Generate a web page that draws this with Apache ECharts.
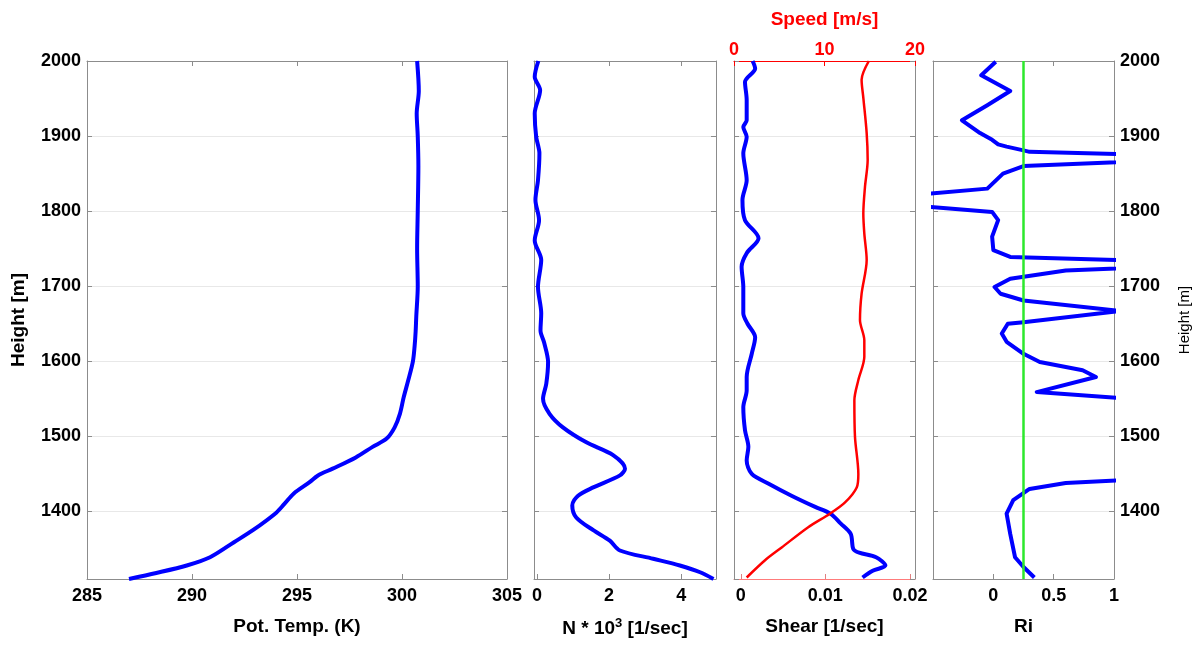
<!DOCTYPE html>
<html>
<head>
<meta charset="utf-8">
<script src="https://cdn.jsdelivr.net/npm/echarts@6/dist/echarts.min.js"></script>
<style>
  html, body { margin: 0; padding: 0; background: #ffffff; }
  #chart { width: 1199px; height: 646px; }
</style>
</head>
<body>
<div id="chart"></div>
<script>
// ---- Profile data (height in metres) ----

// Potential temperature [K]
const thetaHeight = [2000, 1960, 1930, 1900, 1860, 1800, 1750, 1700, 1660, 1640, 1620, 1600, 1575, 1552, 1530, 1512, 1497, 1486, 1472, 1457, 1448, 1439, 1424, 1410, 1398, 1375, 1359, 1339, 1328, 1318, 1310];
const thetaValue  = [300.72, 300.80, 300.70, 300.75, 300.78, 300.75, 300.72, 300.75, 300.68, 300.65, 300.60, 300.52, 300.30, 300.08, 299.90, 299.65, 299.27, 298.60, 297.80, 296.70, 296.00, 295.60, 294.85, 294.40, 294.00, 292.90, 292.00, 290.86, 289.75, 288.30, 287.00];

// Brunt-Vaisala frequency N * 10^3 [1/sec]
const bvHeight = [2000, 1979, 1961, 1930, 1899, 1877, 1841, 1815, 1788, 1761, 1735, 1699, 1664, 1641, 1625, 1599, 1570, 1550, 1530, 1512, 1492, 1475, 1457, 1448, 1432, 1421, 1408, 1392, 1375, 1361, 1348, 1337, 1328, 1319, 1310];
const bvValue  = [0.04, -0.06, 0.09, -0.06, -0.02, 0.07, 0.03, -0.04, 0.06, -0.06, 0.12, 0.03, 0.12, 0.10, 0.20, 0.31, 0.26, 0.17, 0.35, 0.72, 1.37, 2.11, 2.44, 2.30, 1.56, 1.14, 0.98, 1.09, 1.56, 2.02, 2.30, 3.22, 3.96, 4.52, 4.89];

// Wind shear [1/sec]
const shearHeight = [2000, 1990, 1972, 1948, 1921, 1912, 1899, 1877, 1841, 1815, 1788, 1764, 1744, 1726, 1699, 1664, 1650, 1632, 1610, 1579, 1561, 1539, 1508, 1486, 1468, 1450, 1437, 1421, 1406, 1397, 1384, 1370, 1350, 1345, 1339, 1328, 1321, 1312];
const shearValue  = [0.0014, 0.0017, 0.0005, 0.0007, 0.0007, 0.0003, 0.0007, 0.0003, 0.0007, 0.0002, 0.0005, 0.0021, 0.0007, 0.0001, 0.0003, 0.0003, 0.0008, 0.0017, 0.0013, 0.0007, 0.0007, 0.0003, 0.0005, 0.0009, 0.0007, 0.0013, 0.0033, 0.0060, 0.0088, 0.0106, 0.0118, 0.0130, 0.0133, 0.0140, 0.0160, 0.0171, 0.0156, 0.0144];

// Wind speed [m/s]
const speedHeight = [2000, 1975, 1950, 1904, 1868, 1832, 1797, 1770, 1735, 1690, 1655, 1628, 1606, 1575, 1548, 1499, 1450, 1432, 1412, 1397, 1379, 1352, 1335, 1312];
const speedValue  = [14.9, 14.1, 14.3, 14.66, 14.77, 14.47, 14.29, 14.4, 14.66, 14.1, 13.92, 14.4, 14.4, 13.74, 13.3, 13.37, 13.74, 13.56, 12.27, 10.6, 8.2, 5.27, 3.43, 1.4];

// Richardson number
const riHeight = [1999, 1981, 1960, 1941, 1921, 1904, 1895, 1889, 1886, 1881, 1879, 1872, 1860, 1850, 1830, 1814, 1799, 1788, 1766, 1748, 1739, 1730, 1721, 1710, 1699, 1690, 1681, 1667, 1652, 1650, 1637, 1626, 1610, 1599, 1588, 1579, 1559, 1545, 1500, 1446, 1438, 1430, 1415, 1397, 1370, 1339, 1326, 1312];
const riValue  = [0.02, -0.10, 0.14, -0.05, -0.26, -0.11, -0.01, 0.04, 0.11, 0.25, 0.30, 2.0, 0.25, 0.08, -0.05, -1.2, -0.01, 0.04, -0.01, 0.0, 0.14, 2.0, 0.60, 0.14, 0.01, 0.06, 0.25, 1.05, 0.25, 0.12, 0.07, 0.11, 0.25, 0.385, 0.74, 0.85, 0.36, 1.6, 2.5, 1.6, 0.60, 0.30, 0.165, 0.11, 0.14, 0.18, 0.25, 0.34];

// Critical Richardson number
const riCritical = 0.25;

// ---- Axis extents ----
const HEIGHT_MIN = 1310, HEIGHT_MAX = 2000;

const FONT = "'Liberation Sans', Arial, Helvetica, sans-serif";
const FRAME = '#8c8c8c';
const GRID_LINE = '#e8e8e8';
const BLUE = '#0000ff';
const RED = '#ff0000';

function pairs(values, heights) {
  return values.map((v, i) => [v, heights[i]]);
}

const tickLabel = (color) => ({
  color: color || '#000', fontFamily: FONT, fontWeight: 'bold', fontSize: 18
});

function heightAxis(gridIndex, position, showLabels, name, nameStyle, nameGap) {
  return {
    type: 'value', gridIndex, position,
    min: HEIGHT_MIN, max: HEIGHT_MAX, minInterval: 100, maxInterval: 100,
    axisLine: { show: true, onZero: false, lineStyle: { color: FRAME, width: 1 } },
    axisTick: { show: true, inside: true, length: 5, lineStyle: { color: FRAME } },
    axisLabel: Object.assign({
      show: showLabels, showMinLabel: false, margin: 6,
      formatter: (v) => String(Math.round(v))
    }, tickLabel()),
    splitLine: { show: position === 'left', lineStyle: { color: GRID_LINE, width: 1 } },
    name: name || '', nameLocation: 'middle', nameGap: nameGap || 0,
    nameTextStyle: nameStyle || {}
  };
}

function valueAxis(gridIndex, position, cfg) {
  return {
    type: 'value', gridIndex, position,
    min: cfg.min, max: cfg.max,
    minInterval: cfg.step, maxInterval: cfg.step,
    axisLine: { show: true, onZero: false, lineStyle: { color: cfg.lineColor || FRAME, width: 1 } },
    axisTick: { show: true, inside: true, length: 5, lineStyle: { color: cfg.tickColor || FRAME } },
    axisLabel: Object.assign({
      show: !!cfg.labels, margin: cfg.margin != null ? cfg.margin : 8,
      showMinLabel: cfg.showMinLabel !== false, showMaxLabel: cfg.showMaxLabel !== false
    }, tickLabel(cfg.labelColor)),
    splitLine: { show: false },
    name: cfg.name || '', nameLocation: 'middle', nameGap: cfg.nameGap || 0,
    nameTextStyle: cfg.nameStyle || {}
  };
}

const nameBold = { color: '#000', fontFamily: FONT, fontWeight: 'bold', fontSize: 19 };

const grids = [
  { left: 87,  top: 61, width: 420, height: 518 },
  { left: 534, top: 61, width: 182, height: 518 },
  { left: 734, top: 61, width: 181, height: 518 },
  { left: 933, top: 61, width: 181, height: 518 }
].map(g => Object.assign({ containLabel: false, outerBoundsMode: 'none' }, g));

const xAxes = [
  // Panel 1: potential temperature
  valueAxis(0, 'bottom', { min: 285, max: 305, step: 5, labels: true, name: 'Pot. Temp. (K)', nameGap: 38, nameStyle: nameBold }),
  valueAxis(0, 'top',    { min: 285, max: 305, step: 5 }),
  // Panel 2: N
  valueAxis(1, 'bottom', { min: -0.08, max: 4.96, step: 2, labels: true, showMinLabel: false, showMaxLabel: false,
    name: '{a|N * 10}{s|3}{a| [1/sec]}', nameGap: 38,
    nameStyle: { rich: {
      a: { color: '#000', fontFamily: FONT, fontWeight: 'bold', fontSize: 19, lineHeight: 24 },
      s: { color: '#000', fontFamily: FONT, fontWeight: 'bold', fontSize: 13, verticalAlign: 'top', lineHeight: 14 }
    } } }),
  valueAxis(1, 'top',    { min: -0.08, max: 4.96, step: 2 }),
  // Panel 3: shear (bottom) and speed (top)
  valueAxis(2, 'bottom', { min: -0.0008, max: 0.0206, step: 0.01, labels: true, showMinLabel: false, showMaxLabel: false,
    lineColor: '#ff7b7b', tickColor: '#e08080',
    name: 'Shear [1/sec]', nameGap: 38, nameStyle: nameBold }),
  valueAxis(2, 'top',    { min: 0, max: 20, step: 10, labels: true, labelColor: RED, margin: 2,
    lineColor: RED, tickColor: RED,
    name: 'Speed [m/s]', nameGap: 32, nameStyle: Object.assign({}, nameBold, { color: RED }) }),
  // Panel 4: Richardson number
  valueAxis(3, 'bottom', { min: -0.5, max: 1, step: 0.5, labels: true, showMinLabel: false,
    name: 'Ri', nameGap: 38, nameStyle: nameBold }),
  valueAxis(3, 'top',    { min: -0.5, max: 1, step: 0.5 })
];

const yAxes = [
  heightAxis(0, 'left', true, 'Height [m]', nameBold, 59),
  heightAxis(0, 'right', false),
  heightAxis(1, 'left', false),
  heightAxis(1, 'right', false),
  heightAxis(2, 'left', false),
  heightAxis(2, 'right', false),
  heightAxis(3, 'left', false),
  heightAxis(3, 'right', true, 'Height [m]', { color: '#000', fontFamily: FONT, fontWeight: 'normal', fontSize: 15 }, 63)
];

const lineBase = { type: 'line', showSymbol: false, symbol: 'none', silent: true, clip: true };

const series = [
  Object.assign({}, lineBase, {
    name: 'theta', xAxisIndex: 0, yAxisIndex: 0, data: pairs(thetaValue, thetaHeight),
    smooth: 0.3, lineStyle: { color: BLUE, width: 4 }
  }),
  Object.assign({}, lineBase, {
    name: 'N', xAxisIndex: 2, yAxisIndex: 2, data: pairs(bvValue, bvHeight),
    smooth: 0.3, lineStyle: { color: BLUE, width: 4 }
  }),
  Object.assign({}, lineBase, {
    name: 'shear', xAxisIndex: 4, yAxisIndex: 4, data: pairs(shearValue, shearHeight),
    smooth: 0.3, lineStyle: { color: BLUE, width: 4 }
  }),
  Object.assign({}, lineBase, {
    name: 'speed', xAxisIndex: 5, yAxisIndex: 4, data: pairs(speedValue, speedHeight),
    smooth: 0.3, lineStyle: { color: RED, width: 2.5 }
  }),
  Object.assign({}, lineBase, {
    name: 'Ri', xAxisIndex: 6, yAxisIndex: 6, data: pairs(riValue, riHeight),
    lineStyle: { color: BLUE, width: 4, join: 'round' },
    markLine: {
      silent: true, symbol: 'none', animation: false,
      label: { show: false },
      lineStyle: { color: '#2de82d', width: 2.5, type: 'solid' },
      data: [{ xAxis: riCritical }]
    }
  })
];

const chart = echarts.init(document.getElementById('chart'), null, { renderer: 'canvas' });
chart.setOption({
  backgroundColor: '#ffffff',
  animation: false,
  grid: grids,
  xAxis: xAxes,
  yAxis: yAxes,
  series: series
});
</script>
</body>
</html>
